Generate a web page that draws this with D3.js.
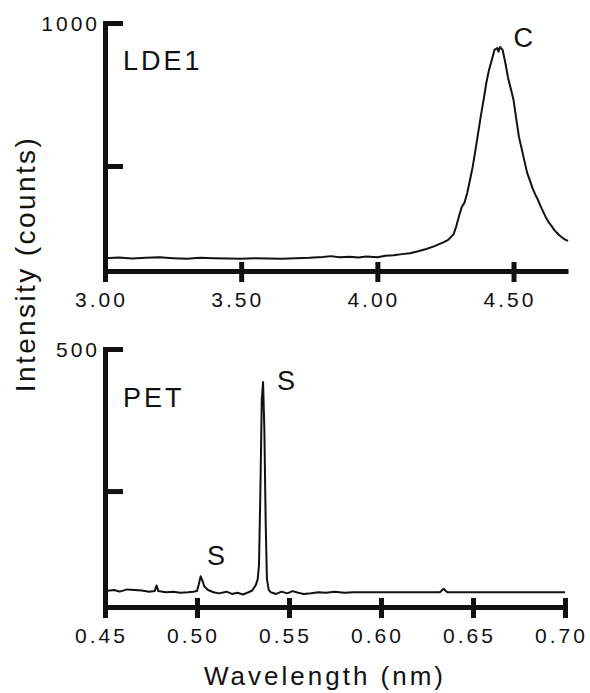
<!DOCTYPE html>
<html>
  <head>
    <meta charset="utf-8" />
    <title>LDE1 / PET spectra</title>
    <script src="https://d3js.org/d3.v7.min.js"></script>
    <style>
      body {
        margin: 0;
        background: #fff;
      }
      svg text {
        font-family: "Liberation Sans", Arial, sans-serif;
        fill: #111;
        letter-spacing: 3px;
      }
    </style>
  </head>
  <body>
    <div id="chart"></div>
    <script>
      // LDE1 crystal, 3.00 - 4.70 nm
      var ldeWave = [
        3.0, 3.05, 3.1, 3.15, 3.2, 3.25, 3.3, 3.35, 3.4, 3.45, 3.5, 3.55, 3.6,
        3.65, 3.7, 3.75, 3.8, 3.83, 3.86, 3.9, 3.93, 3.96, 4.0, 4.03, 4.06,
        4.09, 4.12, 4.15, 4.18, 4.21, 4.24, 4.26, 4.28, 4.29, 4.3, 4.31, 4.32,
        4.33, 4.34, 4.35, 4.36, 4.37, 4.38, 4.39, 4.4, 4.41, 4.42, 4.43, 4.44,
        4.445, 4.45, 4.46, 4.47, 4.48, 4.49, 4.5, 4.51, 4.52, 4.53, 4.54, 4.55,
        4.56, 4.57, 4.58, 4.59, 4.6, 4.61, 4.62, 4.63, 4.64, 4.65, 4.66, 4.67,
        4.68, 4.69, 4.7
      ];
      var ldeCounts = [
        178, 180, 177, 179, 181, 178, 176, 179, 178, 177, 176, 178, 177, 176,
        178, 179, 182, 185, 181, 183, 180, 184, 181, 186, 188, 192, 195, 202,
        210, 220, 232, 242, 262, 290, 325, 357, 372, 406, 450, 497, 555, 615,
        675, 731, 790, 836, 870, 906, 912, 900, 916, 906, 860, 808, 770, 731,
        665, 601, 560, 518, 476, 450, 422, 400, 381, 358, 338, 318, 302, 290,
        276, 266, 256, 249, 243, 238
      ];

      // PET crystal, 0.45 - 0.70 nm
      var petWave = [
        0.45, 0.455, 0.458, 0.462, 0.466, 0.47, 0.474, 0.477, 0.478, 0.479,
        0.483, 0.487, 0.491, 0.495, 0.498, 0.5, 0.501, 0.502, 0.503, 0.504,
        0.506, 0.509, 0.512, 0.516, 0.519, 0.522, 0.525, 0.528, 0.53, 0.532,
        0.533, 0.5337, 0.5345, 0.5352, 0.5359, 0.5366, 0.5373, 0.538, 0.539,
        0.54, 0.543, 0.546, 0.549, 0.552, 0.555, 0.558, 0.562, 0.566, 0.57,
        0.575, 0.58, 0.585, 0.59, 0.6, 0.61, 0.62, 0.632, 0.634, 0.636, 0.65,
        0.67, 0.7
      ];
      var petCounts = [
        74, 76, 73, 77, 76, 75, 73, 74, 84, 74, 72, 73, 71, 72, 73, 74, 86, 100,
        92, 82, 76, 72, 70, 73, 69, 71, 68, 72, 75, 85, 95, 120, 260, 410, 442,
        360, 200, 95, 76, 72, 69, 73, 70, 74, 71, 69, 70, 72, 71, 73, 71, 72,
        72, 72, 72, 72, 72, 78, 72, 72, 72, 72
      ];

      var ldeXTicks = [3.0, 3.5, 4.0, 4.5];
      var petXTicks = [0.45, 0.5, 0.55, 0.6, 0.65, 0.7];
      var ldeYTicks = [500, 1000];
      var petYTicks = [250, 500];

      var panels = [
        {
          name: "LDE1",
          wave: ldeWave,
          counts: ldeCounts,
          xDomain: [3.0, 4.7],
          yDomain: [133, 1000],
          xTicks: ldeXTicks,
          yTicks: ldeYTicks,
          left: 105,
          top: 23,
          width: 463,
          height: 248,
          nameY: 47,
          peaks: [{ label: "C", x: 4.5, y: 916 }]
        },
        {
          name: "PET",
          wave: petWave,
          counts: petCounts,
          xDomain: [0.45, 0.7],
          yDomain: [46, 500],
          xTicks: petXTicks,
          yTicks: petYTicks,
          left: 105,
          top: 349,
          width: 460,
          height: 258,
          nameY: 58,
          peaks: [
            { label: "S", x: 0.5435, y: 428 },
            { label: "S", x: 0.5054, y: 120 }
          ]
        }
      ];

      var width = 590;
      var height = 693;

      var svg = d3
        .select("#chart")
        .append("svg")
        .attr("width", width)
        .attr("height", height);

      panels.forEach(function (p) {
        var x = d3.scaleLinear().domain(p.xDomain).range([0, p.width]);
        var y = d3.scaleLinear().domain(p.yDomain).range([p.height, 0]);

        var g = svg
          .append("g")
          .attr("transform", "translate(" + p.left + "," + p.top + ")");

        // data line
        var line = d3
          .line()
          .x(function (d, i) {
            return x(p.wave[i]);
          })
          .y(function (d) {
            return y(d);
          });

        g.append("path")
          .datum(p.counts)
          .attr("fill", "none")
          .attr("stroke", "#111")
          .attr("stroke-width", 2)
          .attr("stroke-linejoin", "round")
          .attr("d", line);

        // x axis, ticks cross the line
        var xAxis = g
          .append("g")
          .attr("transform", "translate(0," + p.height + ")")
          .call(
            d3
              .axisBottom(x)
              .tickValues(p.xTicks)
              .tickSize(11)
              .tickSizeOuter(0)
              .tickFormat(d3.format(".2f"))
          );
        xAxis.select(".domain").attr("stroke", "#111").attr("stroke-width", 5);
        xAxis
          .selectAll(".tick line")
          .attr("y1", -9)
          .attr("stroke", "#111")
          .attr("stroke-width", 5);
        xAxis
          .selectAll(".tick text")
          .attr("y", 36)
          .attr("dy", 0)
          .attr("dx", -4)
          .attr("font-size", 21)
          .attr("fill", "#111");

        // y axis, ticks point inward, only top labelled
        var top = p.yTicks[p.yTicks.length - 1];
        var yAxis = g.append("g").call(
          d3
            .axisLeft(y)
            .tickValues(p.yTicks)
            .tickSize(-18)
            .tickSizeOuter(0)
            .tickFormat(function (d) {
              return d === top ? d : "";
            })
        );
        yAxis
          .select(".domain")
          .attr("stroke", "#111")
          .attr("stroke-width", 5)
          .attr("stroke-linecap", "square");
        yAxis
          .selectAll(".tick line")
          .attr("stroke", "#111")
          .attr("stroke-width", 5);
        yAxis
          .selectAll(".tick text")
          .attr("x", -5)
          .attr("dy", "0.36em")
          .attr("font-size", 21)
          .attr("fill", "#111");

        // panel name
        g.append("text")
          .attr("x", 18)
          .attr("y", p.nameY)
          .attr("font-size", 27)
          .text(p.name);

        // peak labels
        p.peaks.forEach(function (k) {
          g.append("text")
            .attr("x", x(k.x))
            .attr("y", y(k.y))
            .attr("font-size", 27)
            .text(k.label);
        });
      });

      // shared axis titles
      svg
        .append("text")
        .attr("transform", "translate(35,264) rotate(-90)")
        .attr("text-anchor", "middle")
        .attr("font-size", 28)
        .style("letter-spacing", "2.4px")
        .text("Intensity (counts)");

      svg
        .append("text")
        .attr("x", 325)
        .attr("y", 685)
        .attr("text-anchor", "middle")
        .attr("font-size", 26)
        .text("Wavelength (nm)");
    </script>
  </body>
</html>
